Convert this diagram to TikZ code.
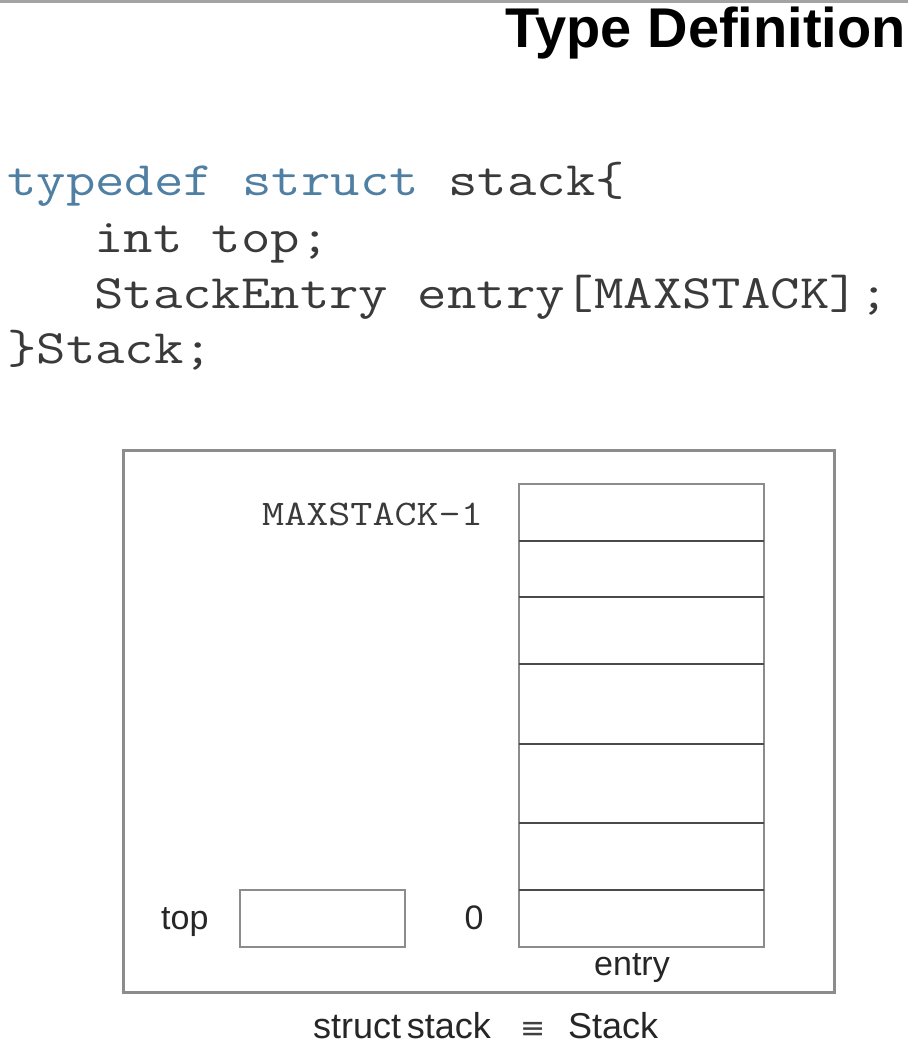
\documentclass[tikz,border=0pt]{standalone}
\usepackage{fontspec}
\setmainfont{Liberation Sans}
\newfontfamily\symfont{DejaVu Sans}
\usepackage{graphicx}
\definecolor{kwblue}{HTML}{4F7FA3}
\definecolor{codegray}{HTML}{3A3A3A}
\definecolor{boxgray}{HTML}{8C8C8C}
\definecolor{divgray}{HTML}{4A4A4A}
\newcommand{\codewide}[1]{\scalebox{1.19}[1]{#1}}
\tikzset{
  code/.style={anchor=base west, inner sep=0pt, text=codegray, font=\ttfamily\fontsize{48}{52}\selectfont},
  lbl/.style={inner sep=0pt, text=black!85, font=\fontsize{34}{36}\selectfont},
  frame/.style={draw=boxgray, line width=3pt},
  cellbox/.style={draw=boxgray, line width=2.5pt, inner sep=0pt},
  divider/.style={draw=divgray, line width=2pt}
}
\begin{document}
\begin{tikzpicture}[x=1pt,y=-1pt]
\useasboundingbox (0,0) rectangle (908,1051);
\fill[white] (0,0) rectangle (908,1051);
% top edge
\coordinate (tl) at (0,1.5);
\coordinate (tr) at (908,1.5);
\draw[draw=boxgray!80, line width=3pt] (tl) -- (tr);
% title
\node[anchor=base east, inner sep=0pt, font=\bfseries\fontsize{56}{60}\selectfont] (title) at (906,48) {Type Definition};
% code
\node[code] (c1) at (7,195) {\codewide{\textcolor{kwblue}{typedef struct} stack\{}};
\node[code] (c2) at (94,252) {\codewide{int top;}};
\node[code] (c3) at (94,308) {\codewide{StackEntry entry[MAXSTACK];}};
\node[code] (c4) at (7,363) {\codewide{\}Stack;}};
% struct frame
\node[frame, minimum width=711pt, minimum height=542pt, inner sep=0pt] (outer) at (478.5,721) {};
% entry array cells
\node[cellbox, minimum width=245pt, minimum height=463pt] (entry) at (641.5,715.5) {};
\foreach \yy/\nm in {541/d1,597/d2,664/d3,744/d4,823/d5,890/d6}{
  \coordinate (\nm l) at (519,\yy);
  \coordinate (\nm r) at (764,\yy);
  \draw[divider] (\nm l) -- (\nm r);
}
\node[anchor=base west, inner sep=0pt, text=codegray, font=\ttfamily\fontsize{36}{40}\selectfont] (maxl) at (262,525) {\codewide{MAXSTACK-1}};
\node[lbl, anchor=base] (zero) at (474,929) {0};
\node[lbl, anchor=base] (entrylbl) at (632,975) {entry};
% top field
\node[cellbox, minimum width=165pt, minimum height=57pt] (topbox) at (322.5,918.5) {};
\node[lbl, anchor=base west] (toplbl) at (161,929) {top};
% caption
\node[anchor=base west, inner sep=0pt, text=black!85, font=\fontsize{36}{40}\selectfont] (cap1) at (313,1038) {struct\hspace{-0.12em} stack};
\node[anchor=base, inner sep=0pt, text=black!75, font=\symfont\fontsize{30}{34}\selectfont] (cap2) at (533,1038) {≡};
\node[anchor=base west, inner sep=0pt, text=black!85, font=\fontsize{36}{40}\selectfont] (cap3) at (568,1038) {Stack};
\end{tikzpicture}
\end{document}
